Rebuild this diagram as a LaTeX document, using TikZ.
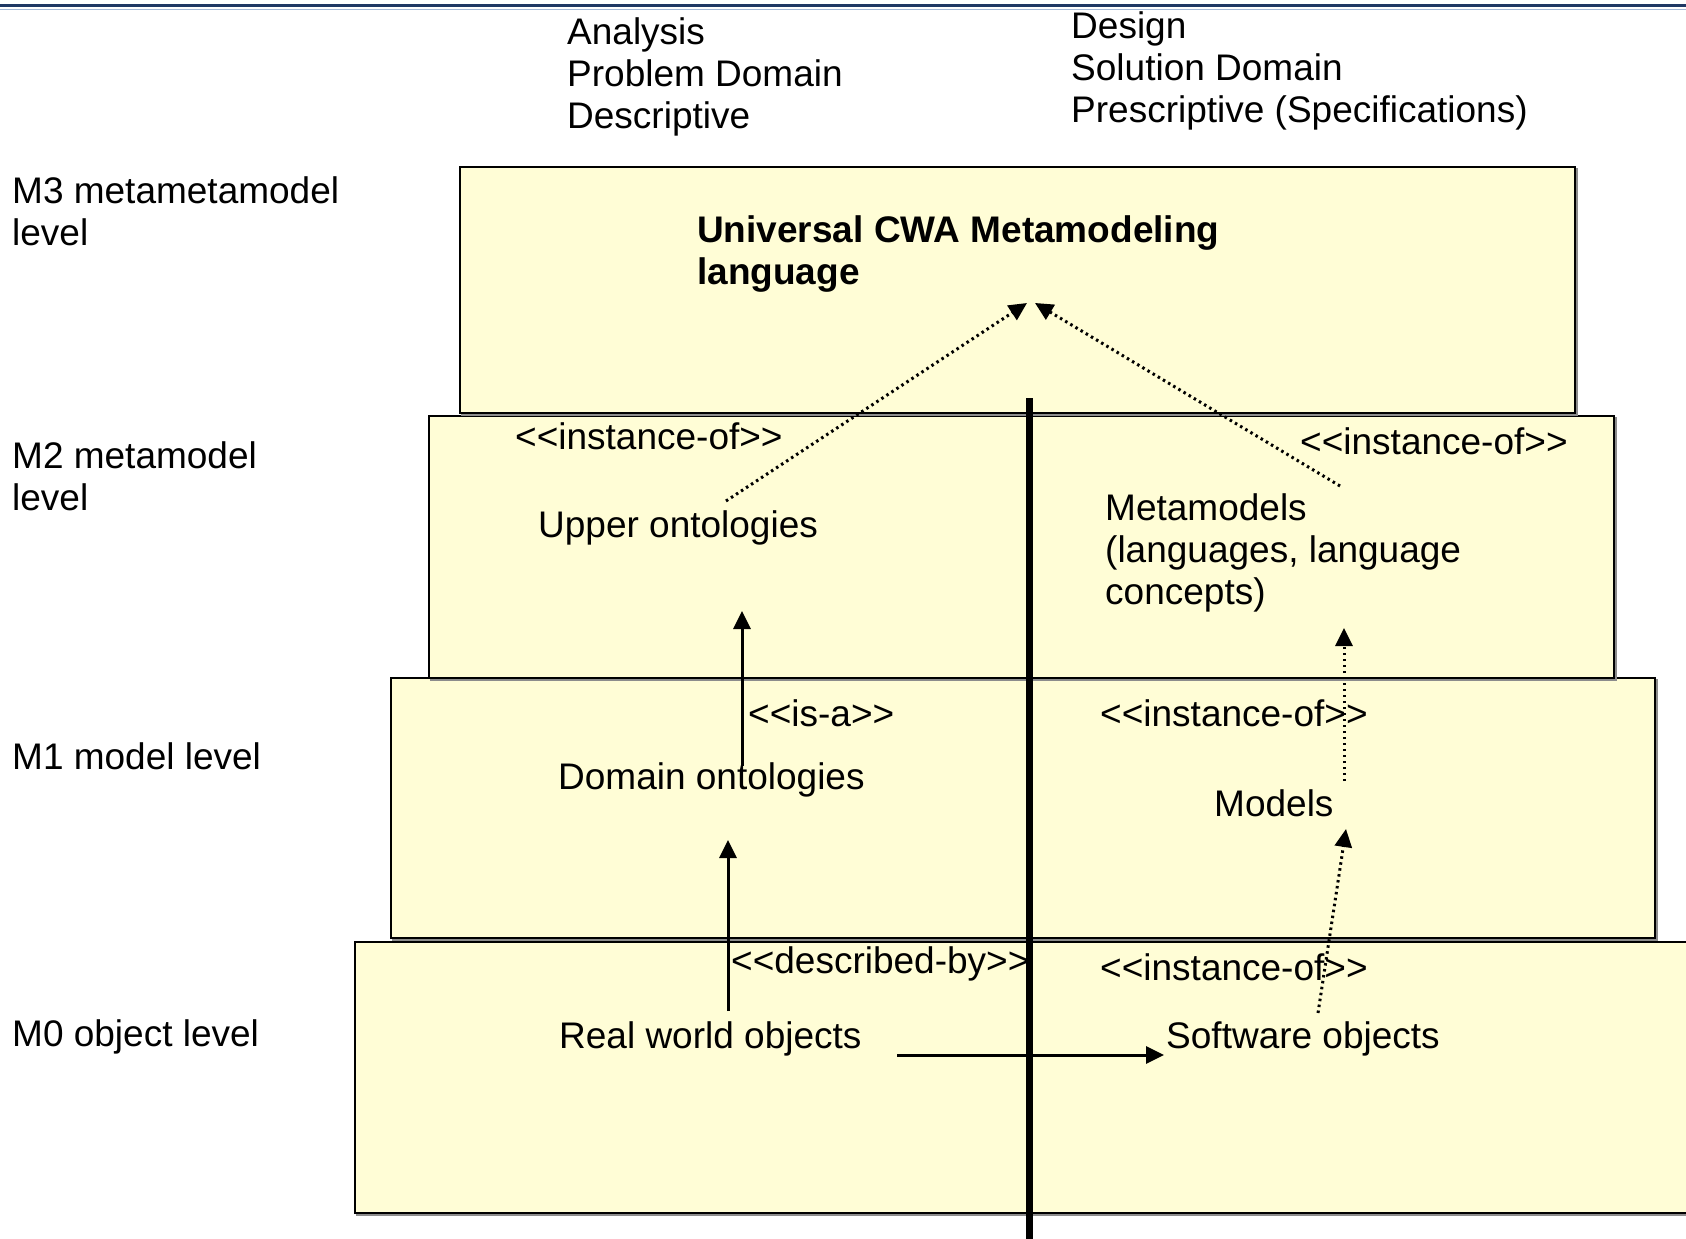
\documentclass[tikz,border=0pt]{standalone}
\usepackage{fontspec}
\setmainfont{Liberation Sans}
\usetikzlibrary{arrows.meta}
\definecolor{boxfill}{RGB}{255,253,214}
\definecolor{rulenavy}{RGB}{31,56,100}
\definecolor{rulelight}{RGB}{165,185,215}

\begin{document}
\begin{tikzpicture}[x=1pt,y=-1pt,
  lbl/.style={inner sep=0pt, font=\fontsize{37}{42}\selectfont, align=left},
  levelbox/.style={draw=black, line width=1.6pt, fill=boxfill},
  boxshade/.style={draw=black!45, line width=1.6pt},
  solidarrow/.style={line width=3pt, -{Triangle[length=18pt,width=17pt]}},
  dotarrow/.style={line width=3pt, dash pattern=on 2.5pt off 3.5pt, -{Triangle[length=18pt,width=17pt]}},
  divider/.style={line width=7pt}]

\useasboundingbox (0,0) rectangle (1686,1239);
\clip (0,0) rectangle (1686,1239);

% heading rule
\draw[rulenavy, line width=3pt] (0,6) -- (1686,6);
\draw[rulelight, line width=1pt] (0,9.5) -- (1686,9.5);

% metalevel boxes (bottom to top)
\draw[boxshade] (357,944) rectangle (1702,1215);
\draw[levelbox] (355,942) rectangle (1700,1213);
\draw[boxshade] (393,680) rectangle (1657,940);
\draw[levelbox] (391,678) rectangle (1655,938);
\draw[boxshade] (431,418) rectangle (1616,680);
\draw[levelbox] (429,416) rectangle (1614,678);
\draw[boxshade] (462,169) rectangle (1577,415);
\draw[levelbox] (460,167) rectangle (1575,413);

% column headings
\node[lbl, anchor=north west] (hana) at (567,17) {Analysis\\Problem Domain\\Descriptive};
\node[lbl, anchor=north west] (hdes) at (1071,11) {Design\\Solution Domain\\Prescriptive (Specifications)};

% level names
\node[lbl, anchor=north west] (m3) at (12,176) {M3 metametamodel\\level};
\node[lbl, anchor=north west] (m2) at (12,441) {M2 metamodel\\level};
\node[lbl, anchor=base west] (m1) at (12,769) {M1 model level};
\node[lbl, anchor=base west] (m0) at (12,1046) {M0 object level};

% M3 content
\node[lbl, anchor=north west, font=\fontsize{37}{42}\selectfont\bfseries] (ucwa) at (697,215) {Universal CWA Metamodeling\\language};

% M2 content
\node[lbl, anchor=base west] (io2l) at (515,449) {<{}<instance-of>{}>};
\node[lbl, anchor=base west] (upper) at (538,537) {Upper ontologies};
\node[lbl, anchor=base west] (io2r) at (1300,454) {<{}<instance-of>{}>};
\node[lbl, anchor=north west] (meta) at (1105,493) {Metamodels\\(languages, language\\concepts)};

% M1 content
\node[lbl, anchor=base west] (isa) at (748,726) {<{}<is-a>{}>};
\node[lbl, anchor=base west] (domain) at (558,789) {Domain ontologies};
\node[lbl, anchor=base west] (io1) at (1100,726) {<{}<instance-of>{}>};
\node[lbl, anchor=base west] (models) at (1214,816) {Models};

% M0 content
\node[lbl, anchor=base west] (descby) at (731,973) {<{}<described-by>{}>};
\node[lbl, anchor=base west] (io0) at (1100,980) {<{}<instance-of>{}>};
\node[lbl, anchor=base west] (real) at (559,1048) {Real world objects};
\node[lbl, anchor=base west] (soft) at (1166,1048) {Software objects};

% dividing line between analysis and design
\coordinate (divtop) at (1029,398);
\coordinate (divbot) at (1029,1245);
\draw[divider] (divtop) -- (divbot);

% connector end points
\coordinate (uoTail) at (726,501);
\coordinate (ucwaL) at (1027,303);
\coordinate (mmTail) at (1340,486);
\coordinate (ucwaR) at (1035,303);
\coordinate (doTail) at (742,766);
\coordinate (uoHead) at (742,611);
\coordinate (rwTail) at (728,1011);
\coordinate (doHead) at (728,840);
\coordinate (moTail) at (1344,781);
\coordinate (mmHead) at (1344,628);
\coordinate (soTail) at (1318,1013);
\coordinate (moHead) at (1346,829);
\coordinate (rwOut) at (897,1055);
\coordinate (soIn) at (1164,1055);

% connectors
\draw[dotarrow] (uoTail) -- (ucwaL);
\draw[dotarrow] (mmTail) -- (ucwaR);
\draw[solidarrow] (doTail) -- (uoHead);
\draw[solidarrow] (rwTail) -- (doHead);
\draw[dotarrow] (moTail) -- (mmHead);
\draw[dotarrow] (soTail) -- (moHead);
\draw[solidarrow] (rwOut) -- (soIn);
\end{tikzpicture}
\end{document}
